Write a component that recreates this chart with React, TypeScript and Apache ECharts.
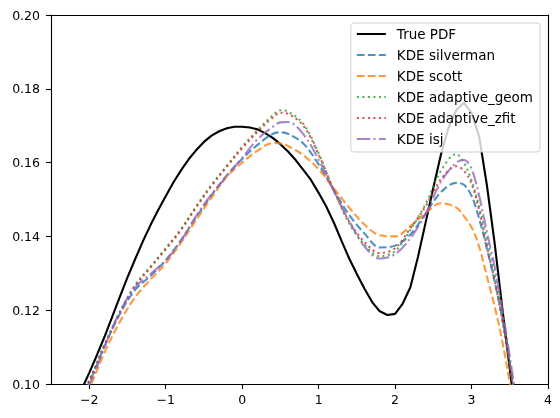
import React, { useEffect, useRef } from "react";
import * as echarts from "echarts";

// True PDF sampled on a 0.1 grid
const pdfX = [
  -2.2, -2.1, -2.0, -1.9, -1.8, -1.7, -1.6, -1.5, -1.4, -1.3, -1.2, -1.1, -1.0, -0.9, -0.8, -0.7, -0.6, -0.5, -0.4, -0.3,
  -0.2, -0.1, 0.0, 0.1, 0.2, 0.3, 0.4, 0.5, 0.6, 0.7, 0.8, 0.9, 1.0, 1.1, 1.2, 1.3, 1.4, 1.5, 1.6, 1.7,
  1.8, 1.9, 2.0, 2.1, 2.2, 2.3, 2.4, 2.5, 2.6, 2.7, 2.8, 2.9, 3.0, 3.1, 3.2, 3.3, 3.4, 3.5, 3.6, 3.7,
];
const truePdf = [
  0.0945, 0.0985, 0.103, 0.1078, 0.1128, 0.1182, 0.1236, 0.1289, 0.1338, 0.1386, 0.143, 0.1471, 0.1509, 0.1546, 0.1579, 0.1609, 0.1634, 0.1656, 0.1673, 0.1685,
  0.1693, 0.1697, 0.1697, 0.1695, 0.169, 0.168, 0.1667, 0.165, 0.163, 0.1607, 0.158, 0.1553, 0.1518, 0.1481, 0.1437, 0.1388, 0.134, 0.1298, 0.1258, 0.1222,
  0.1197, 0.1187, 0.119, 0.1218, 0.1262, 0.1345, 0.1438, 0.1532, 0.1622, 0.1695, 0.1742, 0.1762, 0.1735, 0.167, 0.154, 0.1385, 0.121, 0.104, 0.087, 0.07,
];

// KDE estimates
const kdeX = [
  -2.2, -2.0, -1.8, -1.6, -1.4, -1.2, -1.0, -0.8, -0.6, -0.4, -0.2, 0.0, 0.2, 0.4, 0.5, 0.6, 0.8, 1.0,
  1.2, 1.4, 1.6, 1.8, 2.0, 2.2, 2.4, 2.6, 2.8, 2.9, 3.0, 3.1, 3.2, 3.3, 3.4, 3.5, 3.6, 3.7,
];
const kdeSilverman = [
  0.0935, 0.1005, 0.1102, 0.119, 0.1255, 0.1293, 0.1335, 0.139, 0.1452, 0.1512, 0.1566, 0.161, 0.1648, 0.1678, 0.1682, 0.1678, 0.1652, 0.1595,
  0.1525, 0.1458, 0.1408, 0.137, 0.1375, 0.1405, 0.1462, 0.152, 0.1545, 0.154, 0.151, 0.1448, 0.1368, 0.128, 0.118, 0.1058, 0.0912, 0.077,
];
const kdeScott = [
  0.0925, 0.099, 0.1085, 0.1168, 0.1235, 0.1283, 0.1327, 0.1383, 0.1445, 0.1505, 0.1562, 0.16, 0.1632, 0.1653, 0.1652, 0.1645, 0.162, 0.1582,
  0.153, 0.1478, 0.1432, 0.1403, 0.14, 0.1428, 0.1463, 0.149, 0.1478, 0.1455, 0.1425, 0.1372, 0.1292, 0.1212, 0.1118, 0.1003, 0.088, 0.076,
];
const kdeAdaptiveGeom = [
  0.094, 0.101, 0.1108, 0.1195, 0.1268, 0.1318, 0.1368, 0.142, 0.1482, 0.154, 0.1592, 0.1643, 0.1688, 0.1728, 0.1742, 0.1738, 0.1705, 0.1625,
  0.1525, 0.1435, 0.1378, 0.1346, 0.136, 0.1418, 0.1488, 0.1578, 0.1623, 0.16, 0.1552, 0.148, 0.1393, 0.1298, 0.1185, 0.1055, 0.091, 0.077,
];
const kdeAdaptiveZfit = [
  0.0938, 0.1008, 0.1105, 0.1192, 0.1265, 0.1315, 0.1365, 0.1417, 0.1479, 0.1537, 0.1589, 0.1639, 0.1683, 0.1722, 0.1735, 0.1732, 0.17, 0.1622,
  0.1525, 0.144, 0.1385, 0.1355, 0.1368, 0.1422, 0.1482, 0.1555, 0.159, 0.1578, 0.1543, 0.147, 0.1372, 0.1282, 0.1175, 0.105, 0.0905, 0.0765,
];
const kdeIsj = [
  0.094, 0.0998, 0.11, 0.1196, 0.1262, 0.1298, 0.1335, 0.1388, 0.1456, 0.1514, 0.1563, 0.1613, 0.1663, 0.1697, 0.1709, 0.171, 0.1677, 0.1608,
  0.1522, 0.1442, 0.1373, 0.134, 0.1352, 0.1395, 0.1462, 0.1548, 0.16, 0.1607, 0.1583, 0.151, 0.1412, 0.132, 0.1205, 0.1075, 0.0935, 0.079,
];

const xTicks = [-2, -1, 0, 1, 2, 3, 4];
const yTicks = [0.1, 0.12, 0.14, 0.16, 0.18, 0.2];

const seriesNames = ["True PDF", "KDE silverman", "KDE scott", "KDE adaptive_geom", "KDE adaptive_zfit", "KDE isj"];

const pair = (xs: number[], ys: number[]) => xs.map((x, i) => [x, ys[i]]);

const FONT = "DejaVu Sans";

export default function App() {
  const ref = useRef<HTMLDivElement>(null);
  useEffect(() => {
    if (!ref.current) return;
    const chart = echarts.init(ref.current, undefined, { renderer: "svg" });
    const axisLineStyle = { color: "#000", width: 1.1 };
    const kde = (name: string, ys: number[], color: string, type: any) => ({
      name,
      type: "line",
      data: pair(kdeX, ys),
      symbol: "none",
      showSymbol: false,
      smooth: 0.35,
      clip: true,
      lineStyle: { color, width: 2.1, type },
      itemStyle: { color },
    });
    chart.setOption({
      animation: false,
      textStyle: { fontFamily: FONT },
      grid: { left: 51, top: 15, width: 497, height: 369 },
      xAxis: [
        {
          type: "value",
          min: -2.5,
          max: 4,
          axisLine: { show: true, onZero: false, lineStyle: axisLineStyle },
          axisTick: { show: true, customValues: xTicks, length: 5, lineStyle: axisLineStyle },
          axisLabel: {
            customValues: xTicks,
            color: "#000",
            fontSize: 12.5,
            fontFamily: FONT,
            margin: 9,
            formatter: (v: number) => (v < 0 ? "\u2212" + Math.abs(v) : String(v)),
          },
          splitLine: { show: false },
        },
        {
          type: "value",
          position: "top",
          min: -2.5,
          max: 4,
          axisLine: { show: true, onZero: false, lineStyle: axisLineStyle },
          axisTick: { show: false },
          axisLabel: { show: false },
          splitLine: { show: false },
        },
      ],
      yAxis: [
        {
          type: "value",
          min: 0.1,
          max: 0.2,
          axisLine: { show: true, onZero: false, lineStyle: axisLineStyle },
          axisTick: { show: true, customValues: yTicks, length: 5, lineStyle: axisLineStyle },
          axisLabel: {
            customValues: yTicks,
            color: "#000",
            fontSize: 12.5,
            fontFamily: FONT,
            margin: 11,
            formatter: (v: number) => v.toFixed(2),
          },
          splitLine: { show: false },
        },
        {
          type: "value",
          position: "right",
          min: 0.1,
          max: 0.2,
          axisLine: { show: true, onZero: false, lineStyle: axisLineStyle },
          axisTick: { show: false },
          axisLabel: { show: false },
          splitLine: { show: false },
        },
      ],
      legend: {
        data: seriesNames,
        orient: "vertical",
        right: 20,
        top: 23,
        itemWidth: 29,
        itemHeight: 14,
        itemGap: 7,
        padding: [4, 7, 6, 5],
        backgroundColor: "rgba(255,255,255,0.8)",
        borderColor: "#d0d0d0",
        borderWidth: 1,
        borderRadius: 3,
        selectedMode: false,
        itemStyle: { opacity: 0, borderWidth: 0 },
        textStyle: { fontSize: 13.5, color: "#000", fontFamily: FONT, padding: [0, 0, 0, 6] },
      },
      series: [
        {
          name: "True PDF",
          type: "line",
          data: pair(pdfX, truePdf),
          symbol: "none",
          showSymbol: false,
          smooth: false,
          clip: true,
          lineStyle: { color: "#000", width: 2.1, type: "solid" },
          itemStyle: { color: "#000" },
        },
        kde("KDE silverman", kdeSilverman, "rgba(31,119,180,0.8)", [7.7, 3.3]),
        kde("KDE scott", kdeScott, "rgba(255,127,14,0.8)", [7.7, 3.3]),
        kde("KDE adaptive_geom", kdeAdaptiveGeom, "rgba(44,160,44,0.8)", [2.1, 3.4]),
        kde("KDE adaptive_zfit", kdeAdaptiveZfit, "rgba(214,39,40,0.8)", [2.1, 3.4]),
        kde("KDE isj", kdeIsj, "rgba(148,103,189,0.8)", [13.3, 3.3, 2.1, 3.3]),
      ],
    });
    return () => chart.dispose();
  }, []);
  return <div ref={ref} style={{ position: "fixed", left: 0, top: 0, width: 560, height: 418 }} />;
}
